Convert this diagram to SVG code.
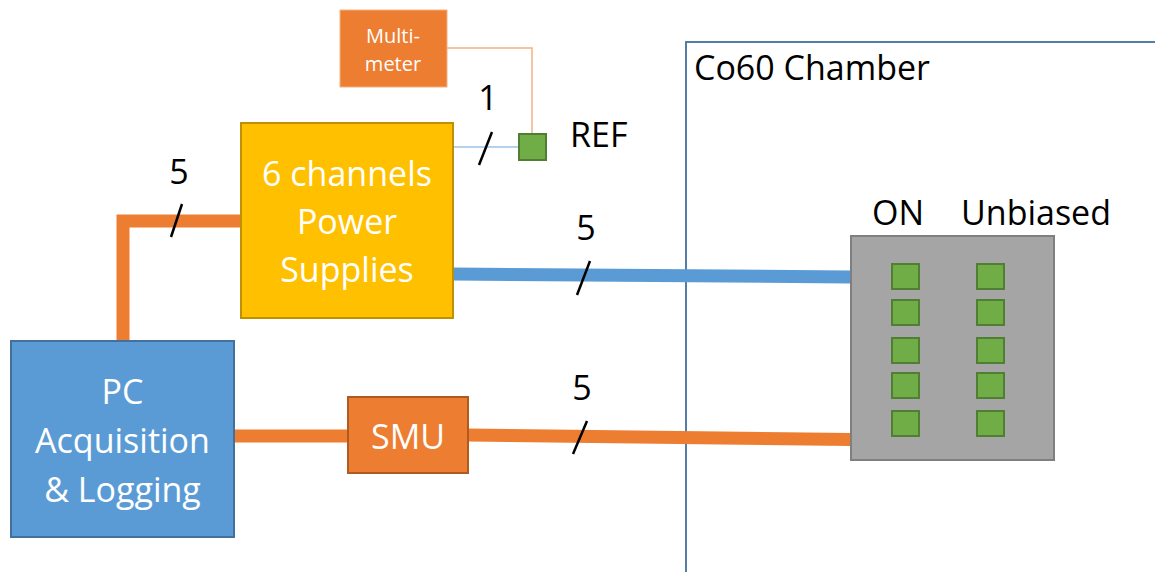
<svg xmlns="http://www.w3.org/2000/svg" width="1155" height="572" viewBox="0 0 1155 572">
<style>
text{font-family:"Open Sans","Liberation Sans",sans-serif;}
.w{fill:#fff;font-size:34px;text-anchor:middle;}
.k{fill:#000;font-size:34px;}
.c{text-anchor:middle;}
.sl{stroke:#000;stroke-width:2.5;fill:none;}
.g{fill:#70AD47;stroke:#507E32;stroke-width:2;}
</style>
<rect width="1155" height="572" fill="#fff"/>
<g id="chamber">
<rect x="686" y="42" width="600" height="600" fill="none" stroke="#41719C" stroke-width="1.8"/>
<text class="k" x="694" y="80">Co60 Chamber</text>
</g>
<g id="connectors">
<path d="M447,48 H532 V134" fill="none" stroke="#F4B183" stroke-width="1.5"/>
<path d="M453,147 H519" fill="none" stroke="#9DC3E6" stroke-width="1.5"/>
<path d="M123,341 V221 H241" fill="none" stroke="#ED7D31" stroke-width="13" stroke-linejoin="miter"/>
<path d="M453,274 L851,277" fill="none" stroke="#5B9BD5" stroke-width="13"/>
<path d="M234,436 H348" fill="none" stroke="#ED7D31" stroke-width="13"/>
<path d="M468,435 L851,439.5" fill="none" stroke="#ED7D31" stroke-width="13"/>
<line class="sl" x1="492" y1="132" x2="479" y2="165"/>
<line class="sl" x1="182" y1="204" x2="171" y2="237"/>
<line class="sl" x1="590" y1="261" x2="577" y2="295"/>
<line class="sl" x1="587" y1="421" x2="573" y2="454"/>
<text class="k c" x="488" y="110">1</text>
<text class="k c" x="179" y="184">5</text>
<text class="k c" x="586" y="240">5</text>
<text class="k c" x="582" y="400">5</text>
</g>
<g id="multimeter">
<rect x="340" y="10" width="107" height="77" fill="#ED7D31" stroke="#F4B183" stroke-width="1"/>
<text class="w" x="393" y="43" style="font-size:20px">Multi-</text>
<text class="w" x="393" y="71" style="font-size:20px">meter</text>
</g>
<g id="ref">
<rect class="g" x="519" y="134" width="27" height="26"/>
<text class="k" x="570" y="147">REF</text>
</g>
<g id="power-supplies">
<rect x="241" y="123" width="212" height="195" fill="#FFC000" stroke="#BF9000" stroke-width="2"/>
<text class="w" x="347" y="186">6 channels</text>
<text class="w" x="347" y="234">Power</text>
<text class="w" x="347" y="282">Supplies</text>
</g>
<g id="pc">
<rect x="11" y="341" width="223" height="196" fill="#5B9BD5" stroke="#41719C" stroke-width="2"/>
<text class="w" x="122.5" y="404">PC</text>
<text class="w" x="122.5" y="453">Acquisition</text>
<text class="w" x="122.5" y="502">&amp; Logging</text>
</g>
<g id="smu">
<rect x="348" y="397" width="120" height="76" fill="#ED7D31" stroke="#AE5A21" stroke-width="2"/>
<text class="w" x="408" y="449">SMU</text>
</g>
<g id="dut-board">
<rect x="851" y="236" width="203" height="224" fill="#A5A5A5" stroke="#7F7F7F" stroke-width="2"/>
<text class="k" x="872" y="225">ON</text>
<text class="k" x="961" y="225">Unbiased</text>
<rect class="g" x="892" y="264" width="27" height="25"/>
<rect class="g" x="892" y="300" width="27" height="25"/>
<rect class="g" x="892" y="338" width="27" height="25"/>
<rect class="g" x="892" y="373" width="27" height="25"/>
<rect class="g" x="892" y="411" width="27" height="25"/>
<rect class="g" x="977" y="264" width="27" height="25"/>
<rect class="g" x="977" y="300" width="27" height="25"/>
<rect class="g" x="977" y="338" width="27" height="25"/>
<rect class="g" x="977" y="373" width="27" height="25"/>
<rect class="g" x="977" y="411" width="27" height="25"/>
</g>
</svg>
